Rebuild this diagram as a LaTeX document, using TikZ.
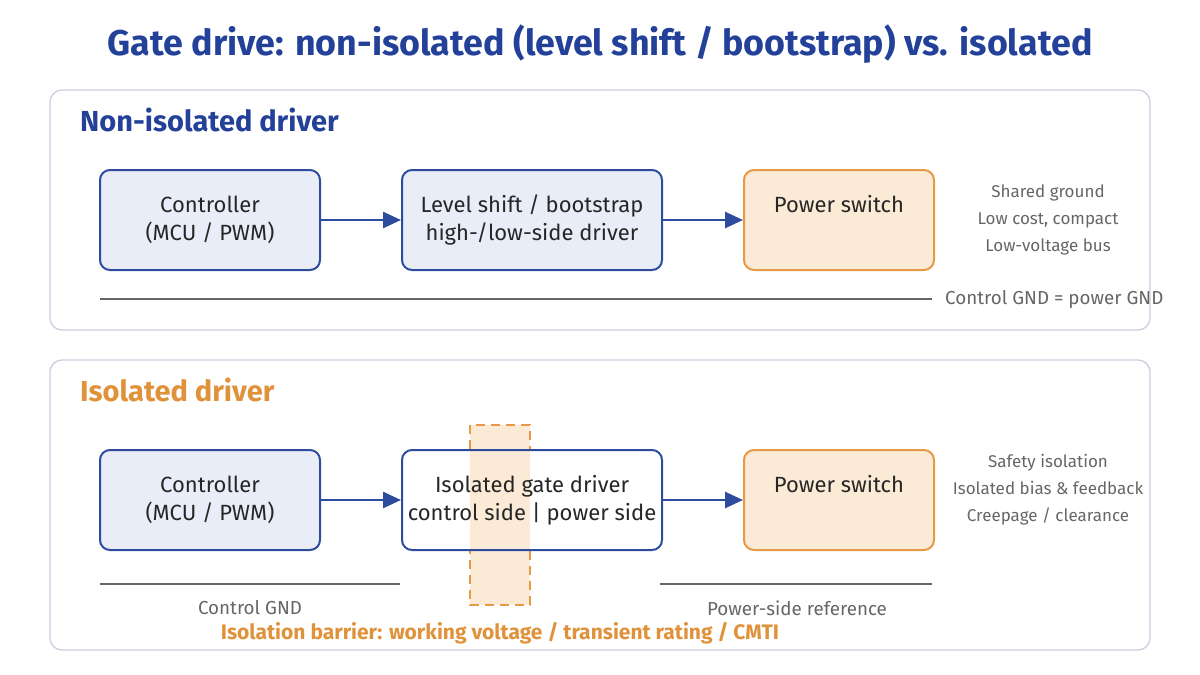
\documentclass[tikz,border=0pt]{standalone}
\usepackage{fontspec}
\setmainfont{Fira Sans}
\usetikzlibrary{arrows.meta}
\definecolor{navy}{HTML}{24419A}
\definecolor{bfill}{HTML}{E9EDF8}
\definecolor{bstroke}{HTML}{2E4C9E}
\definecolor{ofill}{HTML}{FBEAD6}
\definecolor{ostroke}{HTML}{E69A45}
\definecolor{otext}{HTML}{E0923A}
\definecolor{gtext}{HTML}{666666}
\definecolor{panel}{HTML}{C9D0DE}
\begin{document}
\begin{tikzpicture}[x=1pt,y=-1pt,
  panel/.style={draw=panel,line width=1.3pt,rounded corners=12pt},
  blk/.style={draw=bstroke,fill=bfill,line width=2pt,rounded corners=10pt,minimum height=100pt,align=center,font=\fontsize{22}{28}\selectfont,text=black!85},
  pw/.style={blk,draw=ostroke,fill=ofill},
  arr/.style={-{Triangle[length=18pt,width=16pt]},draw=bstroke,line width=2.6pt},
  gnd/.style={draw=gray!80!black,line width=1.8pt},
  side/.style={align=center,text=gtext,font=\fontsize{17}{27}\selectfont},
  lab/.style={text=gtext,font=\fontsize{18.8}{20}\selectfont}]
\useasboundingbox (0,0) rectangle (1200,675);
\node[text=navy,font=\bfseries\fontsize{35.8}{40}\selectfont] (title) at (600,44) {Gate drive: non-isolated (level shift / bootstrap) vs. isolated};
\draw[panel] (50,90) rectangle (1150,330);
\draw[panel] (50,360) rectangle (1150,650);
\node[anchor=west,inner sep=0pt,text=navy,font=\bfseries\fontsize{29}{32}\selectfont] (h1) at (80,120) {Non-isolated driver};
\node[anchor=west,inner sep=0pt,text=otext,font=\bfseries\fontsize{29}{32}\selectfont] (h2) at (80,390) {Isolated driver};
% top row
\node[blk,minimum width=220pt] (c1) at (210,220) {Controller\\(MCU / PWM)};
\node[blk,minimum width=260pt] (l1) at (532,220) {Level shift / bootstrap\\high-/low-side driver};
\node[pw,minimum width=190pt,text depth=32pt] (p1) at (839,220) {Power switch};
\draw[arr] (c1) -- (l1);
\draw[arr] (l1) -- (p1);
\node[side] (s1) at (1048,220) {Shared ground\\Low cost, compact\\Low-voltage bus};
\coordinate (g1a) at (100,299); \coordinate (g1b) at (932,299);
\draw[gnd] (g1a) -- (g1b);
\node[lab,anchor=west,inner sep=0pt] (g1l) at (945,299) {Control GND = power GND};
% bottom row
\node[blk,minimum width=220pt] (c2) at (210,500) {Controller\\(MCU / PWM)};
\fill[white,rounded corners=10pt] (402,450) rectangle (662,550);
\fill[ofill] (470,425) rectangle (530,605);
\begin{scope}
\clip (0,0) rectangle (1200,449) (0,551) rectangle (1200,675);
\draw[ostroke,dash pattern=on 9pt off 6pt,line width=2pt] (470,425) rectangle (530,605);
\end{scope}
\coordinate (bar) at (500,515);
\node[blk,fill=none,minimum width=260pt] (l2) at (532,500) {Isolated gate driver\\control side | power side};
\node[pw,minimum width=190pt,text depth=32pt] (p2) at (839,500) {Power switch};
\draw[arr] (c2) -- (l2);
\draw[arr] (l2) -- (p2);
\node[side] (s2) at (1048,490) {Safety isolation\\Isolated bias \& feedback\\Creepage / clearance};
\coordinate (g2a) at (100,584); \coordinate (g2b) at (400,584);
\coordinate (g3a) at (660,584); \coordinate (g3b) at (932,584);
\draw[gnd] (g2a) -- (g2b);
\draw[gnd] (g3a) -- (g3b);
\node[lab] (g2l) at (250,608) {Control GND};
\node[lab] (g3l) at (797,608) {Power-side reference};
\node[text=otext,font=\bfseries\fontsize{21}{24}\selectfont] (bl) at (500,633) {Isolation barrier: working voltage / transient rating / CMTI};
\end{tikzpicture}
\end{document}
